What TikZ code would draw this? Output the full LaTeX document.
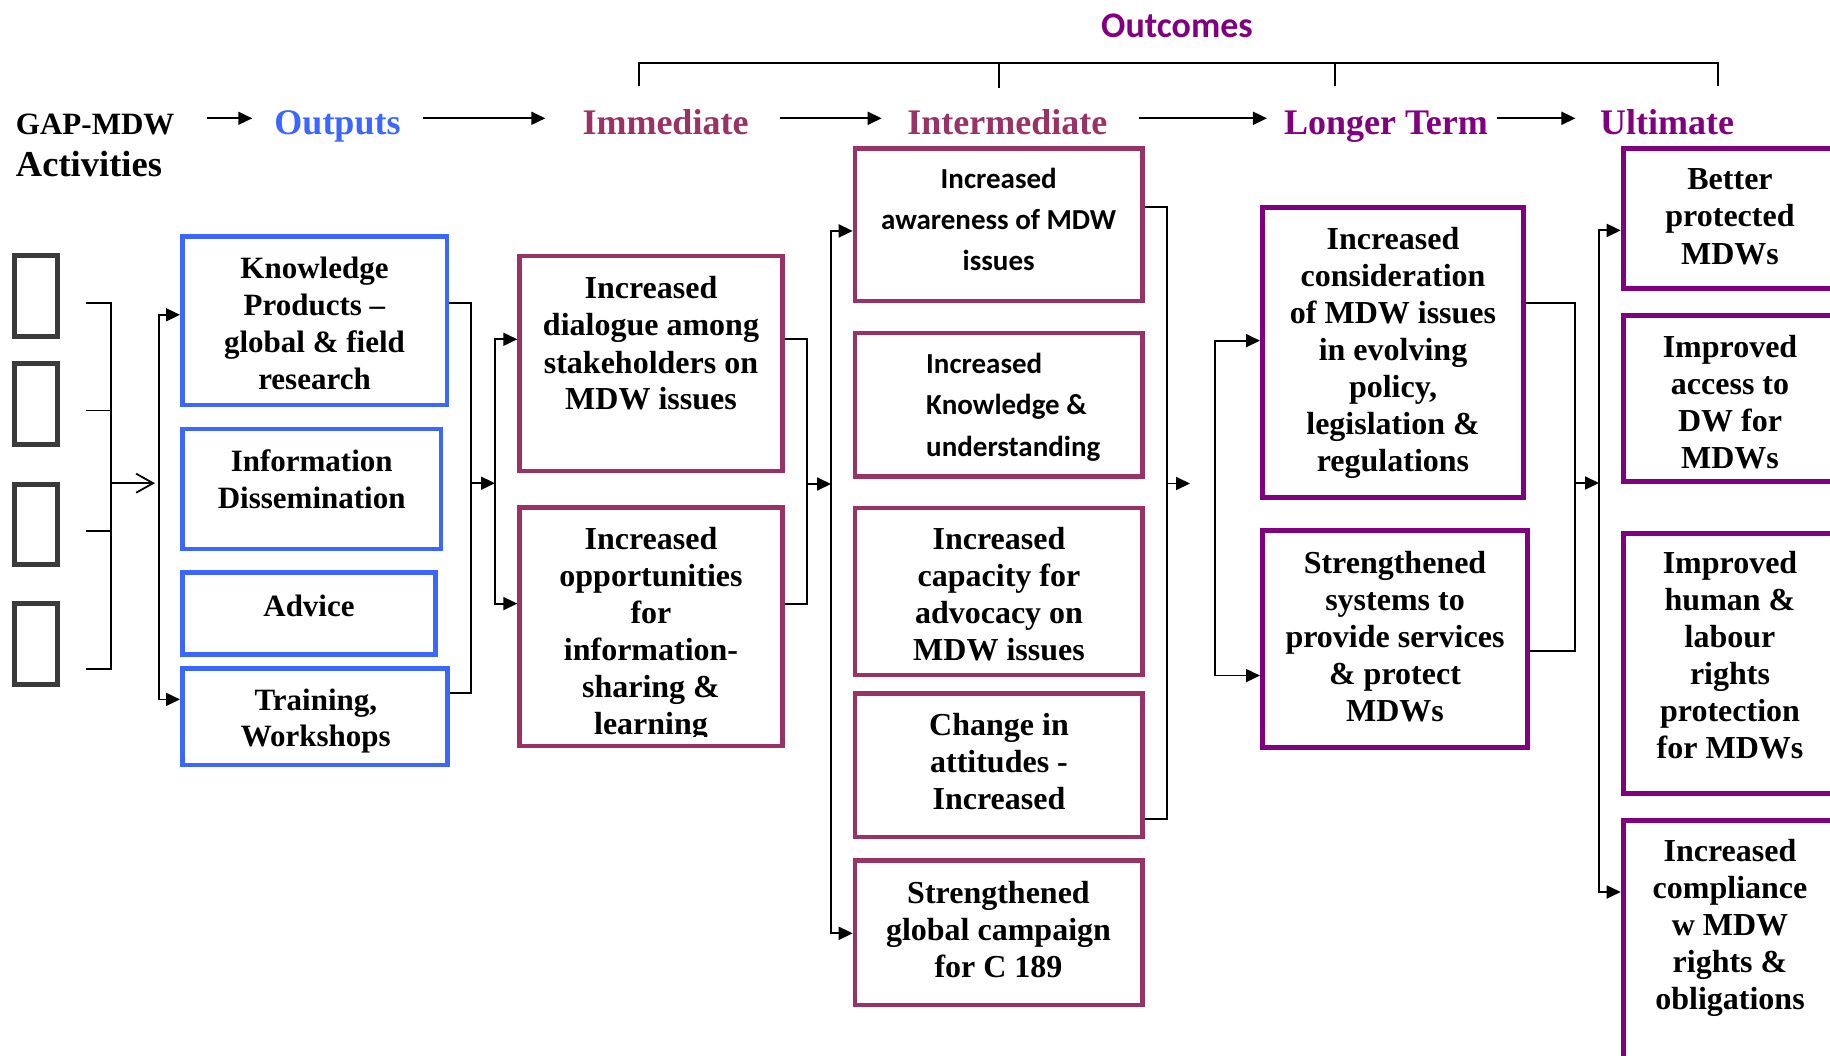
\documentclass[tikz,border=0pt]{standalone}
\usepackage{fontspec}
\setmainfont{Liberation Serif}
\newfontfamily\calfont{Carlito}
\usetikzlibrary{arrows.meta}
\definecolor{outblue}{RGB}{59,102,255}
\definecolor{maroon}{RGB}{153,51,102}
\definecolor{plum}{RGB}{128,0,128}
\definecolor{sqgray}{RGB}{58,58,58}
% multi-line text whose baseline is the baseline of its first line
\newcommand\ml[2][c]{\begin{tabular}[t]{@{}#1@{}}#2\end{tabular}}

\begin{document}
\begin{tikzpicture}[x=1pt,y=-1pt,
  conn/.style={line width=1.8pt},
  arr/.style={conn,-{Triangle[length=14pt,width=13pt]}},
  barb/.style={conn,-{Straight Barb[length=17pt,width=19pt]}},
  sqbox/.style={draw=sqgray,line width=5pt,inner sep=0pt,minimum width=42.4pt,minimum height=80.8pt},
  bluebox/.style={draw=outblue,line width=4.7pt,inner sep=0pt},
  redbox/.style={draw=maroon,line width=4.7pt,inner sep=0pt},
  purbox/.style={draw=plum,line width=5pt,inner sep=0pt},
  txt/.style={inner sep=0pt,anchor=base},
  tx/.style={txt,font={\bfseries\fontsize{32}{#1}\selectfont}},
  txo/.style={txt,font={\bfseries\fontsize{31}{#1}\selectfont}},
  cx/.style={txt,font={\calfont\bfseries\fontsize{29}{#1}\selectfont}},
  hdr/.style={txt,font={\bfseries\fontsize{36}{40}\selectfont}}]

\useasboundingbox (0,0) rectangle (1830,1056);
\clip (0,0) rectangle (1830,1056);

% ---------- column headers ----------
\node[txt,anchor=base west,font={\bfseries\fontsize{31}{41.7}\selectfont}] (hact) at (15.8,135)
  {\ml[l]{GAP-MDW\\\fontsize{36.5}{41.7}\selectfont Activities}};
\node[hdr,text=outblue] (hout) at (337.5,135) {Outputs};
\node[hdr,text=maroon] (himm) at (665.5,135) {Immediate};
\node[hdr,text=maroon] (hint) at (1007.3,135) {Intermediate};
\node[hdr,text=plum] (hlong) at (1386,135) {Longer Term};
\node[hdr,text=plum] (hult) at (1667,135) {Ultimate};
\node[txt,text=plum,font={\calfont\bfseries\fontsize{36}{40}\selectfont}] (houtc) at (1177,38) {Outcomes};

\coordinate (hy) at (0,118.3);
\draw[arr,shorten <=32pt,shorten >=22pt] (hact.east |- hy) -- (hout.west |- hy);
\draw[arr,shorten <=22pt,shorten >=37pt] (hout.east |- hy) -- (himm.west |- hy);
\draw[arr,shorten <=31.5pt,shorten >=25.5pt] (himm.east |- hy) -- (hint.west |- hy);
\draw[arr,shorten <=31.7pt,shorten >=17pt] (hint.east |- hy) -- (hlong.west |- hy);
\draw[arr,shorten <=9pt,shorten >=24.4pt] (hlong.east |- hy) -- (hult.west |- hy);

% bracket grouping the outcome columns
\draw[conn] (638.6,86) -- (638.6,62.7) -- (1718.3,62.7) -- (1718.3,86);
\draw[conn] (998.6,62.7) -- (998.6,88);
\draw[conn] (1334.6,62.7) -- (1334.6,86);

% ---------- activities ----------
\node[sqbox] (sq1) at (36,296) {};
\node[sqbox] (sq2) at (36,404) {};
\node[sqbox] (sq3) at (36,524.5) {};
\node[sqbox] (sq4) at (36,644) {};

% ---------- outputs ----------
\node[bluebox,minimum width=264.6pt,minimum height=168.3pt] (kp) at (314.65,320.9) {};
\node[bluebox,minimum width=258.6pt,minimum height=120pt] (id) at (311.65,488.95) {};
\node[bluebox,minimum width=253pt,minimum height=81.9pt] (adv) at (308.85,613.3) {};
\node[bluebox,minimum width=265.3pt,minimum height=96.5pt] (tw) at (315,716.6) {};

\node[txo=36.8] (kp-t) at (314.5,279) {\ml{Knowledge\\Products –\\global \& field\\research}};
\node[txo=36.8] (id-t) at (311.7,471.8) {\ml{Information\\Dissemination}};
\node[txo=36] (adv-t) at (309,616.2) {Advice};
\node[txo=36.8] (tw-t) at (315.8,710) {\ml{Training,\\Workshops}};

% ---------- immediate outcomes ----------
\node[redbox,minimum width=263pt,minimum height=214.9pt] (ib1) at (651.15,363.4) {};
\node[redbox,minimum width=263pt,minimum height=238.1pt] (ib2) at (651.15,626.8) {};

\node[tx=37] (ib1-t) at (651,299) {\ml{Increased\\dialogue among\\stakeholders on\\MDW issues}};
\begin{scope}
  \clip (520,500) rectangle (782,736);
  \node[tx=37] (ib2-t) at (651,549) {\ml{Increased\\opportunities\\for\\information-\\sharing \&\\learning}};
\end{scope}

% ---------- intermediate outcomes ----------
\node[redbox,minimum width=287.6pt,minimum height=152.8pt] (int1) at (998.85,224.75) {};
\node[redbox,minimum width=287.6pt,minimum height=143.7pt] (int2) at (998.85,404.8) {};
\node[redbox,minimum width=287.6pt,minimum height=167pt] (int3) at (998.85,591.45) {};
\node[redbox,minimum width=287.6pt,minimum height=143.7pt] (int4) at (998.85,765.2) {};
\node[redbox,minimum width=287.6pt,minimum height=144.3pt] (int5) at (998.85,932.8) {};

\node[cx=41.2] (int1-t) at (998.7,188.4) {\ml{Increased\\awareness of MDW\\issues}};
\node[cx=41.8,anchor=base west] (int2-t) at (926,373) {\ml[l]{Increased\\Knowledge \&\\understanding}};
\node[tx=37] (int3-t) at (999,549.8) {\ml{Increased\\capacity for\\advocacy on\\MDW issues}};
\node[tx=37] (int4-t) at (999,735.8) {\ml{Change in\\attitudes -\\Increased}};
\node[tx=37] (int5-t) at (998.5,903.3) {\ml{Strengthened\\global campaign\\for C 189}};

% ---------- longer term outcomes ----------
\node[purbox,minimum width=261pt,minimum height=289.7pt] (lt1) at (1393,352.25) {};
\node[purbox,minimum width=265pt,minimum height=216.9pt] (lt2) at (1395,639.25) {};

\node[tx=37] (lt1-t) at (1393,249.7) {\ml{Increased\\consideration\\of MDW issues\\in evolving\\policy,\\legislation \&\\regulations}};
\node[tx=37] (lt2-t) at (1395,573.3) {\ml{Strengthened\\systems to\\provide services\\\& protect\\MDWs}};

% ---------- ultimate outcomes ----------
\node[purbox,minimum width=226.8pt,minimum height=139.2pt] (ub1) at (1736.6,218.6) {};
\node[purbox,minimum width=226.8pt,minimum height=166.4pt] (ub2) at (1736.6,398.7) {};
\node[purbox,minimum width=226.8pt,minimum height=260.8pt] (ub3) at (1736.6,663.4) {};
\node[purbox,minimum width=226.8pt,minimum height=269.5pt] (ub4) at (1736.6,955.25) {};

\node[tx=37.3] (ub1-t) at (1730,189.5) {\ml{Better\\protected\\MDWs}};
\node[tx=37] (ub2-t) at (1730,357.4) {\ml{Improved\\access to\\DW for\\MDWs}};
\node[tx=37] (ub3-t) at (1730,573) {\ml{Improved\\human \&\\labour\\rights\\protection\\for MDWs}};
\node[tx=37] (ub4-t) at (1730,861.5) {\ml{Increased\\compliance\\w MDW\\rights \&\\obligations}};

% ---------- connectors ----------
% activities bracket
\coordinate (a1) at ([xshift=26.3pt,yshift=-7.3pt]sq1.east);
\coordinate (a2) at ([xshift=26.3pt,yshift=-6.5pt]sq2.east);
\coordinate (a3) at ([xshift=26.3pt,yshift=-6.5pt]sq3.east);
\coordinate (a4) at ([xshift=26.3pt,yshift=-24.8pt]sq4.east);
\coordinate (oin) at (159,483.2);
\draw[conn] (a1) -- ++(25,0) coordinate (a1r) -- (a1r |- a4) -- (a4);
\draw[conn] (a2) -- (a2 -| a1r);
\draw[conn] (a3) -- (a3 -| a1r);
\draw[barb] (a1r |- oin) -- ([xshift=-4pt]oin);

% into the outputs
\draw[arr] (oin) |- ([yshift=6.1pt]kp.west);
\draw[arr] (oin) |- ([yshift=17.2pt]tw.west);

% outputs to immediate outcomes
\coordinate (oout) at (471,483.2);
\coordinate (iin) at (495,483.2);
\draw[conn] ([yshift=17.6pt]kp.east) -| (oout) |- ([yshift=23.6pt]tw.east);
\draw[arr] (oout) -- (iin);
\draw[arr] (iin) |- ([yshift=24.1pt]ib1.west);
\draw[arr] (iin) |- ([yshift=23.2pt]ib2.west);

% immediate to intermediate outcomes
\coordinate (iout) at (806.7,484);
\coordinate (nin) at (831,484);
\draw[conn] ([yshift=24.1pt]ib1.east) -| (iout) |- ([yshift=23.2pt]ib2.east);
\draw[arr] (iout) -- (nin);
\draw[arr] (nin) |- ([yshift=-6.2pt]int1.west);
\draw[arr] (nin) |- ([yshift=-0.5pt]int5.west);

% intermediate to longer term outcomes
\coordinate (nout) at (1167,483.5);
\coordinate (ngap) at (1190,483.5);
\coordinate (lin) at (1215,483.5);
\draw[conn] ([yshift=17.8pt]int1.east) -| (nout) |- ([yshift=-53.5pt]int4.east);
\draw[arr] (nout) -- (ngap);
\draw[arr] (lin) |- ([yshift=11.6pt]lt1.west);
\draw[arr] (lin) |- ([yshift=-36.3pt]lt2.west);

% longer term to ultimate outcomes
\coordinate (lout) at (1575,483);
\coordinate (uin) at (1599,483);
\draw[conn] ([yshift=49.1pt]lt1.east) -| (lout) |- ([yshift=-11.4pt]lt2.east);
\draw[arr] (lout) -- (uin);
\draw[arr] (uin) |- ([yshift=-11.8pt]ub1.west);
\draw[arr] (uin) |- ([yshift=63.25pt]ub4.west);
\end{tikzpicture}
\end{document}
